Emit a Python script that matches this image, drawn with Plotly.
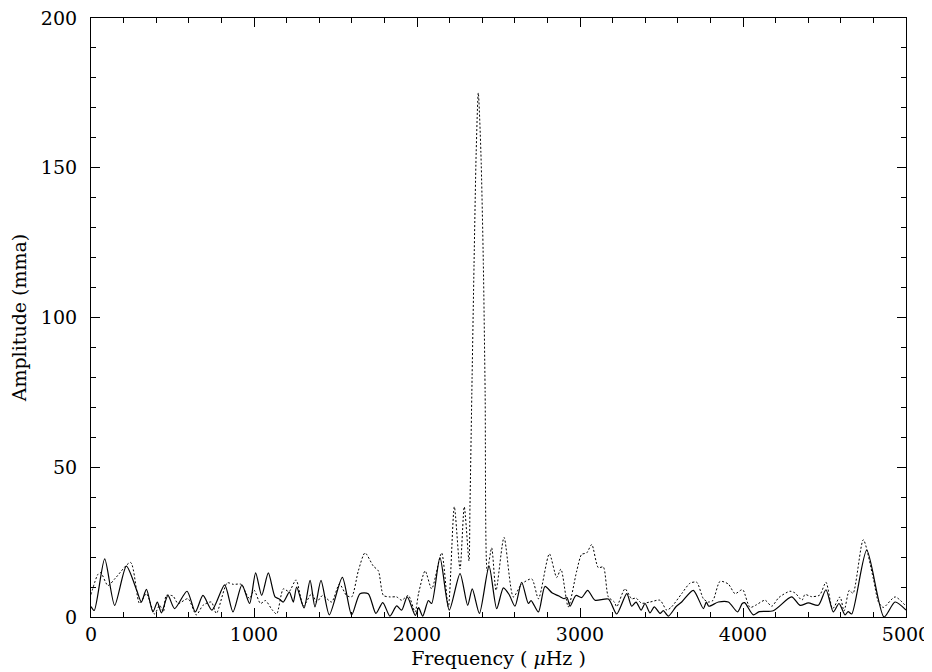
import plotly.graph_objects as go

# Solid curve (frequency in µHz, amplitude in mma)
solid_freq = [0, 20, 84, 145, 217, 280, 309, 340, 380, 407, 432, 472, 513, 589, 640, 687, 742,
              820, 871, 926, 973, 1010, 1047, 1088, 1129, 1155, 1180, 1217, 1241, 1262, 1307,
              1344, 1374, 1411, 1462, 1542, 1599, 1650, 1701, 1748, 1790, 1834, 1875, 1906,
              1940, 1990, 2010, 2035, 2070, 2090, 2141, 2198, 2264, 2311, 2339, 2383, 2442,
              2489, 2530, 2565, 2601, 2642, 2683, 2700, 2745, 2785, 2830, 2870, 2902, 2920,
              2939, 2975, 3010, 3047, 3092, 3174, 3225, 3287, 3317, 3344, 3375, 3399, 3429,
              3456, 3491, 3511, 3542, 3590, 3624, 3695, 3757, 3775, 3790, 3849, 3910, 3967,
              3995, 4010, 4063, 4100, 4186, 4298, 4350, 4401, 4462, 4509, 4554, 4589, 4626,
              4645, 4667, 4759, 4865, 4933, 5000]
solid_amp = [3.5, 2.2, 19.4, 3.9, 17.0, 9.0, 5.0, 9.2, 1.7, 5.0, 1.4, 7.2, 2.8, 8.6, 1.7, 7.2, 2.3,
             10.7, 1.7, 10.7, 4.5, 14.7, 7.2, 14.7, 6.7, 6.0, 5.0, 8.3, 5.0, 10.0, 3.0,
             12.2, 3.4, 12.2, 0.7, 13.2, 0.7, 7.8, 7.8, 1.2, 4.8, 0.3, 3.7, 2.3,
             6.7, 0.5, 3.1, 0.3, 5.5, 4.5, 19.8, 2.3, 14.5, 3.9, 9.4, 1.2, 17.0,
             2.8, 9.7, 7.5, 3.6, 11.6, 4.5, 5.5, 1.7, 10.2, 8.0, 7.0, 6.1, 6.5,
             3.6, 7.2, 6.5, 8.9, 5.6, 6.0, 1.0, 7.8, 3.6, 5.0, 2.3, 4.5, 1.4,
             3.4, 1.2, 2.1, 0.3, 3.5, 5.0, 8.9, 2.8, 5.0, 3.6, 5.0, 5.0, 1.7,
             4.5, 4.8, 0.7, 1.8, 2.1, 6.7, 3.9, 4.7, 3.9, 9.1, 1.7, 4.5, 0.7,
             1.8, 1.0, 22.3, 0.0, 5.0, 2.3]

# Dotted curve
dotted_freq = [0, 43, 60, 104, 150, 243, 298, 340, 390, 421, 444, 462, 503, 534, 595, 646, 687,
               738, 769, 836, 873, 922, 950, 973, 1000, 1040, 1070, 1110, 1139, 1180, 1215,
               1258, 1303, 1354, 1384, 1421, 1476, 1524, 1568, 1599, 1640, 1681, 1732, 1763,
               1794, 1834, 1875, 1906, 1947, 1988, 2010, 2050, 2090, 2151, 2192, 2229, 2264,
               2290, 2319, 2325, 2338, 2350, 2363, 2376, 2392, 2407, 2418, 2431, 2458, 2485,
               2534, 2591, 2642, 2704, 2745, 2812, 2857, 2883, 2928, 2980, 3010, 3041, 3072,
               3112, 3143, 3174, 3211, 3225, 3276, 3317, 3344, 3378, 3429, 3491, 3532, 3562,
               3624, 3675, 3716, 3757, 3787, 3815, 3859, 3910, 3951, 3992, 4002, 4043, 4080,
               4135, 4176, 4220, 4288, 4320, 4362, 4380, 4420, 4470, 4509, 4550, 4595, 4620,
               4652, 4675, 4738, 4800, 4831, 4861, 4933, 5000]
dotted_amp = [7.5, 14.3, 14.8, 10.5, 13.0, 18.2, 4.5, 7.8, 1.0, 3.9, 1.7, 7.2, 7.0, 4.5, 6.1, 0.7, 3.9,
              5.0, 1.2, 11.4, 10.9, 10.9, 8.0, 6.1, 9.0, 4.5, 5.5, 2.5, 1.0, 9.4, 8.5,
              12.4, 3.7, 7.8, 5.0, 7.2, 5.0, 11.0, 7.2, 6.7, 15.4, 21.4, 17.0, 15.4,
              7.2, 6.7, 6.7, 5.6, 7.2, 1.7, 8.0, 15.4, 9.4, 21.4, 3.4, 36.8, 16.0,
              36.8, 18.7, 37.0, 80.0, 118.0, 155.0, 175.0, 155.0, 118.0, 75.0, 15.4, 23.1, 8.9,
              26.6, 6.7, 11.0, 12.7, 6.1, 21.1, 13.2, 16.0, 3.4, 15.4, 20.9, 21.4, 24.2,
              16.5, 16.7, 6.7, 5.0, 3.4, 9.4, 6.1, 6.3, 4.6, 5.0, 5.6, 2.3, 3.4,
              7.8, 11.3, 11.6, 6.1, 5.0, 5.5, 11.9, 11.0, 7.8, 9.1, 8.9, 3.2, 4.0,
              5.6, 3.6, 6.5, 8.6, 8.0, 5.6, 7.5, 6.8, 7.3, 11.6, 2.8, 6.7, 2.0,
              8.9, 7.9, 25.8, 12.7, 5.0, 3.2, 6.7, 3.6]

x_tickvals = [0, 1000, 2000, 3000, 4000, 5000]
x_ticktext = ["0", "1000", "2000", "3000", "4000", "5000"]
y_tickvals = [0, 50, 100, 150, 200]
y_ticktext = ["0", "50", "100", "150", "200"]

FONT = "DejaVu Serif"

fig = go.Figure()
fig.add_trace(go.Scatter(x=dotted_freq, y=dotted_amp, mode="lines",
                         line=dict(color="black", width=1, dash="2px,2px", shape="spline", smoothing=0.7),
                         showlegend=False, hoverinfo="skip"))
fig.add_trace(go.Scatter(x=solid_freq, y=solid_amp, mode="lines",
                         line=dict(color="black", width=1.2, shape="spline", smoothing=0.7),
                         showlegend=False, hoverinfo="skip"))

axis_common = dict(
    showgrid=False, zeroline=False, showline=True, linecolor="black", linewidth=1.2,
    mirror="ticks", ticks="inside", ticklen=9, tickwidth=1, tickcolor="black",
    tickfont=dict(family=FONT, size=19, color="black"), automargin=False,
    ticklabeloverflow="allow",
)

fig.update_layout(
    width=924, height=664,
    margin=dict(l=83, r=26, t=10, b=55),
    paper_bgcolor="white", plot_bgcolor="white",
    font=dict(family=FONT, color="black"),
    xaxis=dict(range=[0, 5000], tickvals=x_tickvals, ticktext=x_ticktext,
               minor=dict(dtick=200, ticks="inside", ticklen=5, tickcolor="black", tickwidth=1),
               title=dict(text="Frequency ( <i>\u03bc</i>Hz )", font=dict(family=FONT, size=19, color="black"),
                          standoff=7),
               **axis_common),
    yaxis=dict(range=[0, 200], tickvals=y_tickvals, ticktext=y_ticktext,
               minor=dict(dtick=10, ticks="inside", ticklen=5, tickcolor="black", tickwidth=1),
               ticklabelstandoff=9,
               title=dict(text="Amplitude (mma)", font=dict(family=FONT, size=19, color="black"),
                          standoff=18),
               **axis_common),
)

fig.write_html("out.html")
